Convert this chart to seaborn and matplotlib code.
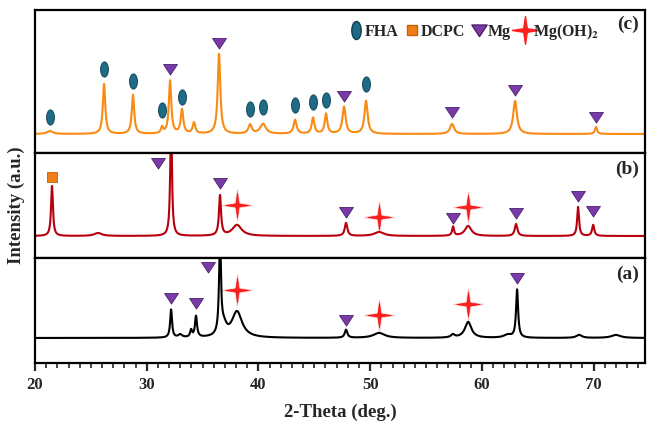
import numpy as np
import pandas as pd
import matplotlib
matplotlib.use("Agg")
import matplotlib.pyplot as plt
import seaborn as sns
from matplotlib.path import Path
from matplotlib.transforms import Affine2D
from matplotlib.lines import Line2D
from matplotlib.ticker import MultipleLocator

# ---------------- data ----------------
# peak positions (2-theta, deg), heights (a.u. above baseline), half widths (deg)
c_pos = [21.34, 26.18, 28.77, 31.37, 32.09, 33.16, 34.23, 36.47, 39.25, 40.41,
         43.28, 44.89, 46.05, 47.66, 49.63, 57.33, 62.97, 70.22]
c_hgt = [3, 50, 39, 6, 53, 24, 11, 80, 9, 10, 14, 16, 20, 27, 33, 10, 33, 7]
c_wid = [0.3, 0.13, 0.13, 0.12, 0.13, 0.14, 0.14, 0.14, 0.18, 0.3,
         0.16, 0.14, 0.14, 0.17, 0.17, 0.22, 0.2, 0.12]

b_pos = [21.52, 25.64, 32.18, 36.56, 38.08, 47.84, 50.8, 57.42, 58.77, 63.06, 68.61, 69.96]
b_hgt = [50, 3, 120, 40, 11, 13, 4, 9, 10, 12, 29, 11]
b_wid = [0.1, 0.4, 0.09, 0.11, 0.5, 0.14, 0.5, 0.1, 0.35, 0.14, 0.1, 0.12]

a_pos = [32.18, 33.0, 33.97, 34.41, 36.56, 36.9, 38.08, 47.84, 50.8, 57.4,
         58.77, 62.3, 63.15, 68.7, 72.0]
a_hgt = [28, 3, 7, 21, 95, 10, 26, 8, 5, 3, 16, 3, 48, 3, 3]
a_wid = [0.1, 0.2, 0.1, 0.11, 0.1, 0.3, 0.55, 0.14, 0.6, 0.2, 0.35, 0.4, 0.11, 0.3, 0.5]

# phase markers (2-theta, marker height a.u.)
c_fha_x = [21.34, 26.18, 28.77, 31.37, 33.16, 39.25, 40.41, 43.28, 44.89, 46.05, 49.63]
c_fha_y = [17, 65, 53, 24, 37, 25, 27, 29, 32, 34, 50]
c_mg_x = [32.09, 36.47, 47.66, 57.33, 62.97, 70.22]
c_mg_y = [65, 91, 38, 22, 44, 17]

b_dcpc_x = [21.52]
b_dcpc_y = [59]
b_mg_x = [31.01, 36.56, 47.84, 57.42, 63.06, 68.61, 69.96]
b_mg_y = [73, 53, 24, 18, 23, 40, 25]
b_oh_x = [38.08, 50.8, 58.77]
b_oh_y = [31, 19, 29]

a_mg_x = [32.18, 34.41, 35.49, 47.84, 63.15]
a_mg_y = [40, 35, 71, 18, 60]
a_oh_x = [38.08, 50.8, 58.77]
a_oh_y = [48, 23, 34]

x_ticks = [20, 30, 40, 50, 60, 70]
panel_labels = ["(c)", "(b)", "(a)"]
legend_labels = ["FHA", "DCPC", "Mg", "Mg(OH)$_{\\mathbf{2}}$"]

# ---------------- styling ----------------
sns.set_theme(style="white")
plt.rcParams["font.family"] = ["Liberation Serif", "DejaVu Serif"]
plt.rcParams["font.weight"] = "bold"
plt.rcParams["mathtext.fontset"] = "stix"

C_ORANGE = "#f98a12"
C_RED = "#b8000c"
C_BLACK = "#000000"
C_FHA = "#1d6b85"
C_FHA_E = "#0d3f52"
C_MG = "#7a3aa8"
C_MG_E = "#4a1f6e"
C_DCPC = "#ee7d1a"
C_STAR = "#ff1f1f"

oval = Path.unit_circle().transformed(Affine2D().scale(0.52, 1.0))
tri = Path([(-1, 0.72), (1, 0.72), (0, -0.8), (-1, 0.72)],
           [Path.MOVETO, Path.LINETO, Path.LINETO, Path.CLOSEPOLY])
s = 0.13
star = Path([(0, 1.0), (s, s), (0.95, 0), (s, -s), (0, -1.0), (-s, -s), (-0.95, 0), (-s, s), (0, 1.0)],
            [Path.MOVETO] + [Path.LINETO] * 7 + [Path.CLOSEPOLY])

xg = np.linspace(20, 75, 5501)


def profile(pos, hgt, wid):
    y = np.zeros_like(xg)
    for p, h, w in zip(pos, hgt, wid):
        y += h / (1 + ((xg - p) / w) ** 2)
    return y


W, H = 647, 422
fig = plt.figure(figsize=(W / 100, H / 100), dpi=100)
left = 35 / W
width = (645 - 35) / W


def ax_at(top_px, bot_px):
    return fig.add_axes([left, 1 - bot_px / H, width, (bot_px - top_px) / H])


ax_c = ax_at(10, 153)
ax_b = ax_at(153, 258)
ax_a = ax_at(258, 363)

panels = [
    (ax_c, c_pos, c_hgt, c_wid, C_ORANGE, (-19, 124), 0.9),
    (ax_b, b_pos, b_hgt, b_wid, C_RED, (-22, 83), 0.84),
    (ax_a, a_pos, a_hgt, a_wid, C_BLACK, (-25, 80), 0.84),
]

for (ax, pos, hgt, wid, col, yl, ly), lab in zip(panels, panel_labels):
    df = pd.DataFrame({"two_theta": xg, "intensity": profile(pos, hgt, wid)})
    sns.lineplot(data=df, x="two_theta", y="intensity", ax=ax, color=col, lw=1.5)
    ax.set_xlim(20, 74.6)
    ax.set_ylim(*yl)
    ax.set_yticks([])
    ax.set_xlabel("")
    ax.set_ylabel("")
    for sp in ax.spines.values():
        sp.set_linewidth(1.6)
        sp.set_color("black")
    ax.text(0.99, ly, lab, transform=ax.transAxes, ha="right", va="center",
            fontsize=14, fontweight="bold")


def mark(ax, xs, ys, marker, ms, fc, ec, mew=0.6, z=5):
    ax.plot(xs, ys, ls="none", marker=marker, ms=ms, mfc=fc, mec=ec, mew=mew, zorder=z, clip_on=False)


def stars(ax, xs, ys):
    ax.plot(xs, ys, ls="none", marker=star, ms=22, mfc=C_STAR, mec=C_STAR, alpha=0.25, zorder=4)
    mark(ax, xs, ys, star, 18, C_STAR, "#e00000", mew=0.3)


mark(ax_c, c_fha_x, c_fha_y, oval, 11, C_FHA, C_FHA_E)
mark(ax_c, c_mg_x, c_mg_y, tri, 10, C_MG, C_MG_E)

mark(ax_b, b_dcpc_x, b_dcpc_y, "s", 6.5, C_DCPC, "#c85f00")
mark(ax_b, b_mg_x, b_mg_y, tri, 10, C_MG, C_MG_E)
stars(ax_b, b_oh_x, b_oh_y)

mark(ax_a, a_mg_x, a_mg_y, tri, 10, C_MG, C_MG_E)
stars(ax_a, a_oh_x, a_oh_y)

# legend
handles = [
    Line2D([], [], ls="none", marker=oval, ms=13, mfc=C_FHA, mec=C_FHA_E),
    Line2D([], [], ls="none", marker="s", ms=7, mfc=C_DCPC, mec="#c85f00"),
    Line2D([], [], ls="none", marker=tri, ms=11, mfc=C_MG, mec=C_MG_E),
    Line2D([], [], ls="none", marker=star, ms=20, mfc=C_STAR, mec=C_STAR),
]
ax_c.legend(handles, legend_labels, ncol=4, frameon=False, loc="center",
            bbox_to_anchor=((474 - 35) / 610, (134 - 32 + 19) / 143),
            handletextpad=0.05, columnspacing=0.35, handlelength=1.0,
            prop={"family": "Liberation Serif", "weight": "bold", "size": 11.5})

# x axis
for ax in (ax_c, ax_b):
    ax.set_xticks([])
ax_a.set_xticks(x_ticks)
ax_a.set_xticklabels([str(t) for t in x_ticks], fontsize=12, fontweight="bold")
ax_a.xaxis.set_minor_locator(MultipleLocator(1))
ax_a.tick_params(axis="x", which="major", direction="out", length=6, width=1.6, bottom=True, pad=4)
ax_a.tick_params(axis="x", which="minor", direction="out", length=3.5, width=1.2, bottom=True)
ax_a.set_xlabel("2-Theta (deg.)", fontsize=13.5, fontweight="bold", labelpad=8)

fig.text(16 / W, 1 - 205 / H, "Intensity (a.u.)", rotation=90, ha="center", va="center",
         fontsize=13.5, fontweight="bold")

fig.savefig("out.png", dpi=100)
